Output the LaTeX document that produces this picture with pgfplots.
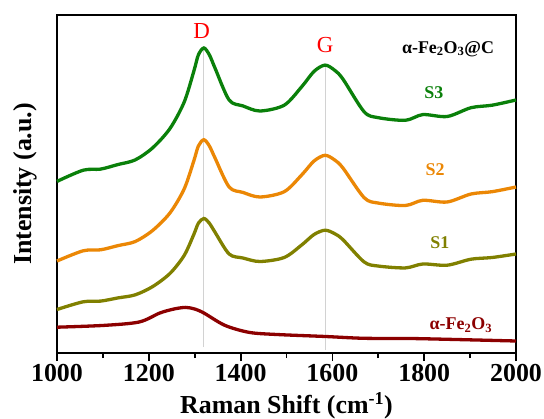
\documentclass[border=0pt]{standalone}
\usepackage{pgfplots}
\pgfplotsset{compat=1.18}
\usepackage{fontspec}
\setmainfont{Liberation Serif}
\definecolor{cS3}{RGB}{10,128,10}
\definecolor{cS2}{RGB}{235,135,5}
\definecolor{cS1}{RGB}{128,128,0}
\definecolor{cFe}{RGB}{140,0,0}
\begin{document}
\begin{tikzpicture}
\useasboundingbox (-57bp,-66bp) rectangle (487bp,353bp);
\begin{axis}[
  scale only axis, width=459bp, height=338bp,
  xmin=1000, xmax=2000, ymin=0, ymax=338,
  axis line style={line width=2.2bp},
  xtick={1000,1200,...,2000}, minor xtick={1100,1300,...,1900},
  xtick pos=bottom, tick align=outside, ytick=\empty,
  major tick length=8bp, minor tick length=5bp,
  every tick/.style={black, line width=1.8bp},
  /pgf/number format/assume math mode=true,
  /pgf/number format/1000 sep={},
  xticklabel style={font=\fontsize{26}{28}\selectfont\bfseries},
  xlabel={Raman Shift (cm\textsuperscript{-1})},
  ylabel={Intensity (a.u.)},
  label style={font=\fontsize{26}{28}\selectfont\bfseries},
  xlabel style={at={(axis description cs:0.5,-0.155)}, anchor=center},
  ylabel style={at={(axis description cs:-0.07,0.5)}, anchor=center},
  clip=false,
]
\addplot[gray!35, line width=0.8bp] coordinates {(1320,6) (1320,305)};
\addplot[gray!35, line width=0.8bp] coordinates {(1585,3) (1585,287)};
% S3
\addplot[cS3, line width=3.3bp, smooth] coordinates {
(1000,171.6)(1057,182.8)(1095,183.9)(1133,188.5)(1170,193.0)(1208,205.0)(1246,224.4)
(1277,250.8)(1298,281.6)(1308,298.1)(1320,305.0)(1332,298.1)(1344,285.2)(1375,253.0)
(1405,247.1)(1442,242.0)(1495,247.8)(1533,266.2)(1560,281.6)(1584,287.9)(1605,282.7)
(1623,273.9)(1669,241.3)(1699,235.4)(1759,232.7)(1797,238.4)(1850,236.5)(1902,245.3)
(1948,247.8)(2000,253.0)};
% S2
\addplot[cS2, line width=3.3bp, smooth] coordinates {
(1000,92)(1057,102.2)(1095,103.2)(1133,107.4)(1170,111.4)(1208,122.4)(1246,140)
(1277,164)(1298,192)(1308,207)(1320,213.3)(1332,207)(1344,195.3)(1375,166)
(1405,160.6)(1442,156)(1495,161.3)(1533,178)(1560,192)(1584,197.7)(1605,193)
(1623,185)(1669,155.4)(1699,150)(1759,147.5)(1797,152.7)(1850,151)(1902,159)
(1948,161.3)(2000,166)};
% S1
\addplot[cS1, line width=3.3bp, smooth] coordinates {
(1000,43.5)(1057,51.2)(1095,51.9)(1133,55.1)(1170,58.1)(1208,66.3)(1246,79.5)
(1277,97.5)(1298,118.5)(1308,129.8)(1320,134.5)(1332,129.8)(1344,121.0)(1375,99.0)
(1405,95.0)(1442,91.5)(1495,95.5)(1533,108.0)(1560,118.5)(1584,122.8)(1605,119.3)
(1623,113.3)(1669,91.1)(1699,87.0)(1759,85.1)(1797,89.0)(1850,87.8)(1902,93.8)
(1948,95.5)(2000,99.0)};
% alpha-Fe2O3
\addplot[cFe, line width=3.3bp, smooth] coordinates {
(1000,25.8)(1102,27.6)(1179,31)(1224,40)(1255,44)(1280,45.6)(1300,44)(1320,40)
(1366,27.6)(1419,20.6)(1479,18.5)(1585,16.5)(1669,14.7)(1782,14.4)(2000,12)};
\node[red, font=\fontsize{23}{24}\selectfont] at (axis cs:1315,322) {D};
\node[red, font=\fontsize{23}{24}\selectfont] at (axis cs:1584,308) {G};
\node[font=\fontsize{18}{20}\selectfont\bfseries] at (axis cs:1852,304) {α-Fe$_{\mathbf 2}$O$_{\mathbf 3}$@C};
\node[cS3, font=\fontsize{18}{20}\selectfont\bfseries] at (axis cs:1821,260) {S3};
\node[cS2, font=\fontsize{18}{20}\selectfont\bfseries] at (axis cs:1824,183) {S2};
\node[cS1, font=\fontsize{18}{20}\selectfont\bfseries] at (axis cs:1834,110) {S1};
\node[cFe, font=\fontsize{18}{20}\selectfont\bfseries] at (axis cs:1880,28) {α-Fe$_{\mathbf 2}$O$_{\mathbf 3}$};
\end{axis}
\end{tikzpicture}
\end{document}
